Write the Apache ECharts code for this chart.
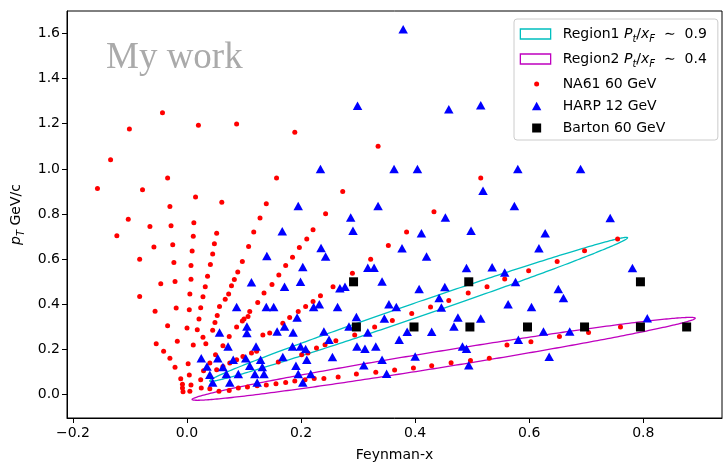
<!DOCTYPE html>
<html>
<head>
<meta charset="utf-8">
<script src="https://cdn.jsdelivr.net/npm/echarts@6/dist/echarts.min.js"></script>
<style>
  html, body { margin: 0; padding: 0; background: #ffffff; }
  #chart { width: 723px; height: 464px; }
</style>
</head>
<body>
<div id="chart"></div>
<script>
// Tick positions
const xTicks = [-0.2, 0.0, 0.2, 0.4, 0.6, 0.8];
const yTicks = [0.0, 0.2, 0.4, 0.6, 0.8, 1.0, 1.2, 1.4, 1.6];

// NA61 60 GeV points [xF, pT]
const na61 = [
  [-0.157,0.913],[-0.134,1.040],[-0.101,1.176],[-0.043,1.249],[-0.078,0.908],[-0.034,0.960],[0.020,1.193],[0.087,1.199],[0.015,0.876],[0.061,0.852],
  [-0.123,0.704],[-0.103,0.777],[-0.083,0.600],[-0.083,0.435],[-0.065,0.745],[-0.058,0.654],[-0.046,0.491],[-0.056,0.370],[-0.054,0.226],[-0.041,0.192],[-0.034,0.305],
  [-0.030,0.833],[-0.028,0.748],[-0.025,0.664],[-0.023,0.586],[-0.021,0.501],[-0.019,0.384],[-0.017,0.237],[-0.011,0.071],[-0.008,0.046],[-0.008,0.030],[-0.007,0.013],
  [0.000,0.295],[0.002,0.137],[0.004,0.376],[0.005,0.446],[0.007,0.511],[0.007,0.572],[0.009,0.636],[0.011,0.702],[0.012,0.762],
  [0.011,0.220],[0.018,0.288],[0.021,0.335],[0.024,0.385],[0.004,0.087],[0.007,0.043],[0.005,0.015],
  [0.028,0.434],[0.032,0.478],[0.036,0.525],[0.041,0.577],[0.045,0.623],[0.048,0.669],[0.052,0.715],[0.028,0.255],[0.033,0.226],
  [0.067,0.423],[0.073,0.446],[0.083,0.510],[0.089,0.543],[0.097,0.590],[0.108,0.656],[0.117,0.720],[0.128,0.782],[0.139,0.846],[0.157,0.960],[0.189,1.162],
  [0.135,0.450],[0.149,0.488],[0.161,0.530],[0.173,0.572],[0.185,0.609],[0.197,0.652],[0.210,0.689],[0.221,0.730],[0.243,0.801],[0.273,0.900],[0.335,1.100],
  [0.208,0.391],[0.221,0.413],[0.234,0.438],[0.256,0.478],[0.290,0.538],[0.322,0.600],[0.353,0.661],[0.385,0.721],[0.433,0.810],[0.515,0.960],
  [0.180,0.342],[0.195,0.369],[0.168,0.317],[0.145,0.273],[0.133,0.265],
  [0.110,0.369],[0.124,0.408],[0.100,0.335],[0.078,0.482],[0.057,0.391],[0.053,0.351],[0.049,0.320],[0.045,0.285],
  [0.056,0.015],[0.074,0.019],[0.090,0.030],[0.106,0.034],[0.123,0.040],[0.139,0.043],[0.156,0.049],[0.173,0.054],[0.189,0.061],[0.207,0.066],[0.223,0.072],
  [0.240,0.072],[0.265,0.078],[0.297,0.092],[0.331,0.100],[0.364,0.109],[0.397,0.118],[0.429,0.128],[0.463,0.142],[0.497,0.152],[0.530,0.161],
  [0.561,0.220],[0.603,0.235],[0.653,0.258],[0.704,0.276],[0.760,0.300],
  [0.160,0.145],[0.201,0.177],[0.212,0.185],[0.227,0.207],[0.242,0.221],[0.261,0.239],[0.294,0.265],[0.329,0.300],[0.360,0.329],[0.394,0.360],
  [0.427,0.389],[0.459,0.417],[0.493,0.450],[0.526,0.478],[0.557,0.512],[0.599,0.549],[0.649,0.590],[0.697,0.637],[0.755,0.689],
  [0.024,0.066],[0.025,0.030],[0.040,0.027],[-0.021,0.122],[-0.030,0.161],
  [0.097,0.327],[0.087,0.300],[0.074,0.258],[0.063,0.217],[0.050,0.177],[0.040,0.140],[0.029,0.106],[0.107,0.346],
  [0.052,0.111],[0.063,0.125],[0.075,0.140],[0.087,0.155],[0.098,0.169],[0.113,0.185],[0.122,0.192]
];

// HARP 12 GeV points [xF, pT]
const harp = [
  [0.379,1.618],[0.299,1.279],[0.459,1.264],[0.515,1.282],[0.363,0.999],[0.404,0.999],[0.580,0.999],[0.519,0.903],[0.335,0.836],[0.574,0.836],[0.287,0.785],[0.453,0.785],
  [0.234,1.000],[0.195,0.836],[0.167,0.724],[0.235,0.650],[0.243,0.612],[0.140,0.614],[0.203,0.566],[0.199,0.500],[0.171,0.478],[0.113,0.498],[0.268,0.472],[0.277,0.478],
  [0.291,0.726],[0.411,0.715],[0.498,0.726],[0.628,0.715],[0.377,0.649],[0.617,0.649],[0.420,0.612],[0.317,0.562],[0.328,0.562],[0.490,0.561],[0.535,0.565],[0.557,0.541],
  [0.342,0.501],[0.576,0.499],[0.407,0.468],[0.452,0.477],[0.442,0.428],[0.446,0.386],[0.354,0.401],[0.367,0.388],[0.563,0.401],[0.604,0.388],
  [0.297,0.344],[0.346,0.338],[0.475,0.342],[0.515,0.338],[0.468,0.302],[0.317,0.276],[0.386,0.279],[0.429,0.279],[0.372,0.243],[0.625,0.280],
  [0.298,0.214],[0.312,0.204],[0.331,0.214],[0.483,0.214],[0.490,0.204],[0.581,0.243],[0.400,0.169],[0.342,0.155],[0.310,0.130],[0.494,0.130],[0.350,0.093],[0.635,0.168],
  [0.690,1.000],[0.742,0.782],[0.781,0.561],[0.651,0.468],[0.660,0.428],[0.671,0.280],[0.807,0.339],
  [0.087,0.388],[0.139,0.388],[0.152,0.388],[0.222,0.388],[0.232,0.401],[0.264,0.388],[0.105,0.302],[0.105,0.273],[0.057,0.276],[0.158,0.280],[0.171,0.302],
  [0.186,0.276],[0.193,0.342],[0.240,0.280],[0.284,0.302],[0.249,0.243],
  [0.072,0.214],[0.121,0.214],[0.185,0.214],[0.199,0.214],[0.208,0.202],
  [0.025,0.162],[0.054,0.162],[0.081,0.155],[0.103,0.162],[0.129,0.155],[0.168,0.167],[0.210,0.155],[0.255,0.167],
  [0.035,0.125],[0.063,0.123],[0.110,0.128],[0.132,0.123],[0.191,0.128],
  [0.040,0.088],[0.069,0.092],[0.090,0.092],[0.119,0.092],[0.135,0.092],[0.195,0.092],[0.217,0.092],
  [0.045,0.054],[0.075,0.054],[0.123,0.054],[0.203,0.054]
];

// Barton 60 GeV points [xF, pT]
const barton = [
  [0.292,0.500],[0.494,0.500],[0.795,0.500],
  [0.297,0.300],[0.398,0.300],[0.496,0.300],[0.597,0.300],[0.697,0.300],[0.795,0.300],[0.876,0.300]
];

// Selection regions: ellipses given in data coordinates
const regionNames   = ['Region1', 'Region2'];
const regionRatios  = ['0.9', '0.4'];
const regionCenters = [[0.406, 0.378], [0.450, 0.159]];
const regionWidths  = [0.970, 0.953];
const regionHeights = [0.051, 0.068];
const regionAngles  = [41.0, 22.3];
const regionColors  = ['#00bfbf', '#bf00bf'];

const FONT = 'DejaVu Sans';
const X_MIN = -0.2104, X_MAX = 0.938;
const Y_MIN = -0.103,  Y_MAX = 1.699;

function tickText(v) {
  return (v < -1e-9 ? '\u2212' : '') + Math.abs(v).toFixed(1);
}

function ellipseSeries(k) {
  return {
    type: 'custom',
    name: regionNames[k],
    coordinateSystem: 'cartesian2d',
    data: [[regionCenters[k][0], regionCenters[k][1]]],
    encode: { x: 0, y: 1 },
    clip: false,
    silent: true,
    z: 1,
    itemStyle: { color: regionColors[k] },
    renderItem: function (params, api) {
      const cx = api.value(0), cy = api.value(1);
      const a = regionWidths[k] / 2, b = regionHeights[k] / 2;
      const th = regionAngles[k] * Math.PI / 180;
      const pts = [];
      for (let i = 0; i < 360; i++) {
        const t = i * Math.PI / 180;
        const dx = a * Math.cos(t), dy = b * Math.sin(t);
        pts.push(api.coord([
          cx + dx * Math.cos(th) - dy * Math.sin(th),
          cy + dx * Math.sin(th) + dy * Math.cos(th)
        ]));
      }
      return {
        type: 'polygon',
        shape: { points: pts },
        style: { fill: 'none', stroke: regionColors[k], lineWidth: 1.3 }
      };
    }
  };
}

// Legend icons sized inside a 38x12 slot
const ICON_BOX = 'M0,0L0,0M38,12L38,12';
const rectIcon = 'path://' + ICON_BOX + 'M0.7,1H31V11H0.7Z';
const dotIcon  = 'path://' + ICON_BOX + 'M14.5,6A2.5,2.5,0,1,0,19.5,6A2.5,2.5,0,1,0,14.5,6Z';
const triIcon  = 'path://' + ICON_BOX + 'M17,1.8L21.7,10.2L12.3,10.2Z';
const sqIcon   = 'path://' + ICON_BOX + 'M12.5,1.5H21.5V10.5H12.5Z';

const richStyles = {
  t: { fontFamily: FONT, fontSize: 14, color: '#000' },
  i: { fontFamily: FONT, fontSize: 14, fontStyle: 'italic', color: '#000' },
  s: { fontFamily: FONT, fontSize: 10, fontStyle: 'italic', color: '#000', verticalAlign: 'bottom', lineHeight: 20 }
};

const chart = echarts.init(document.getElementById('chart'), null, { renderer: 'canvas' });

chart.setOption({
  animation: false,
  backgroundColor: '#ffffff',
  textStyle: { fontFamily: FONT },
  grid: {
    left: 67, right: 1, top: 11, bottom: 46,
    outerBoundsMode: 'none',
    containLabel: false,
    show: true, borderColor: '#000', borderWidth: 1, backgroundColor: '#ffffff'
  },
  graphic: [{
    type: 'text',
    left: 106, top: 40,
    z: 0,
    silent: true,
    style: { text: 'My work', font: '37px "Liberation Serif"', fill: '#aaaaaa' }
  }],
  legend: {
    orient: 'vertical',
    left: 514, top: 19,
    padding: [8, 11, 5, 5],
    itemGap: 8,
    itemWidth: 38, itemHeight: 12,
    selectedMode: false,
    borderColor: '#cccccc', borderWidth: 1, borderRadius: 3,
    backgroundColor: '#ffffff',
    data: [
      { name: 'Region1', icon: rectIcon, itemStyle: { color: 'rgba(0,0,0,0)', borderColor: regionColors[0], borderWidth: 1.3 } },
      { name: 'Region2', icon: rectIcon, itemStyle: { color: 'rgba(0,0,0,0)', borderColor: regionColors[1], borderWidth: 1.3 } },
      { name: 'NA61 60 GeV', icon: dotIcon },
      { name: 'HARP 12 GeV', icon: triIcon },
      { name: 'Barton 60 GeV', icon: sqIcon }
    ],
    formatter: function (name) {
      const k = regionNames.indexOf(name);
      if (k >= 0) {
        return '{t|' + name + ' }{i|P}{s|t}{t|/}{i|x}{s|F}{t|  \u223C  ' + regionRatios[k] + '}';
      }
      return '{t|' + name + '}';
    },
    textStyle: { fontFamily: FONT, fontSize: 14, color: '#000', rich: richStyles }
  },
  xAxis: {
    type: 'value',
    min: X_MIN, max: X_MAX,
    axisLine: { onZero: false, lineStyle: { color: '#000', width: 1 } },
    axisTick: { show: true, customValues: xTicks, length: 5, lineStyle: { color: '#000', width: 1 } },
    axisLabel: { customValues: xTicks, formatter: tickText, margin: 8, color: '#000', fontSize: 14, fontFamily: FONT },
    splitLine: { show: false },
    name: 'Feynman-x',
    nameLocation: 'middle',
    nameGap: 30,
    nameTextStyle: { fontFamily: FONT, fontSize: 14, color: '#000' }
  },
  yAxis: {
    type: 'value',
    min: Y_MIN, max: Y_MAX,
    axisLine: { onZero: false, lineStyle: { color: '#000', width: 1 } },
    axisTick: { show: true, customValues: yTicks, length: 5, lineStyle: { color: '#000', width: 1 } },
    axisLabel: { customValues: yTicks, formatter: tickText, margin: 7, color: '#000', fontSize: 14, fontFamily: FONT },
    splitLine: { show: false },
    name: '{i|p}{s|T}{t| GeV/c}',
    nameLocation: 'middle',
    nameRotate: 90,
    nameGap: 38,
    nameTextStyle: { fontFamily: FONT, fontSize: 14, color: '#000', rich: richStyles }
  },
  series: [
    ellipseSeries(0),
    ellipseSeries(1),
    {
      type: 'scatter', name: 'NA61 60 GeV', data: na61,
      symbol: 'circle', symbolSize: 5, z: 2,
      itemStyle: { color: '#ff0000', opacity: 1 }
    },
    {
      type: 'scatter', name: 'HARP 12 GeV', data: harp,
      symbol: 'triangle', symbolSize: [9.5, 8.5], z: 3,
      itemStyle: { color: '#0000ff', opacity: 1 }
    },
    {
      type: 'scatter', name: 'Barton 60 GeV', data: barton,
      symbol: 'rect', symbolSize: 9, z: 4,
      itemStyle: { color: '#000000', opacity: 1 }
    }
  ]
});
</script>
</body>
</html>
